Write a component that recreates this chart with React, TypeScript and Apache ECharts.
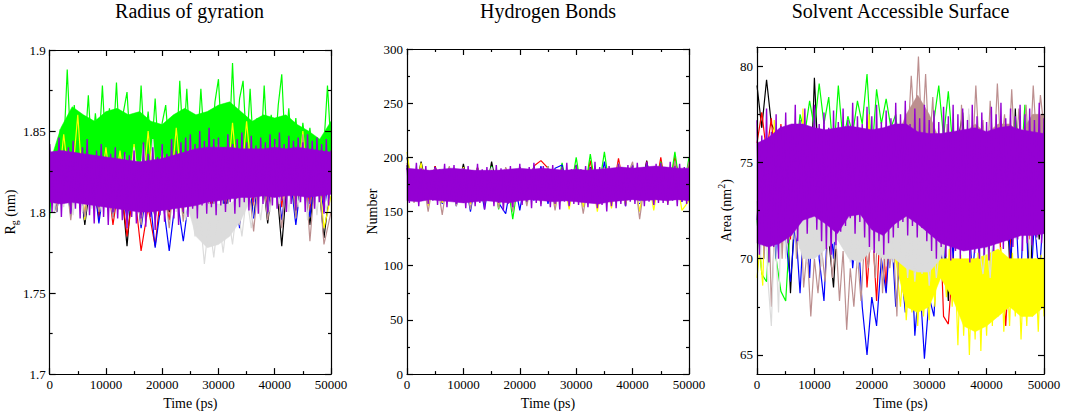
import React, { useEffect, useRef } from "react";
import * as echarts from "echarts";

const FONT = '"Liberation Serif", "Times New Roman", Times, serif';

// ---------- shared axis data ----------
const TIME_MAX = 50000;
const TIME_INTERVAL = 10000;
const X_NAME = "Time (ps)";
const TITLES = ["Radius of gyration", "Hydrogen Bonds", "Solvent Accessible Surface"];
const SERIES_ORDER = ["black", "red", "green", "blue", "yellow", "brown", "grey", "violet"];
const COLORS: Record<string, string> = {
  black: "#000000",
  red: "#ff0000",
  green: "#00ff00",
  blue: "#0000ff",
  yellow: "#ffff00",
  brown: "#bc8f8f",
  grey: "#dcdcdc",
  violet: "#9400d3",
};

// ---------- Radius of gyration (nm) ----------
const RG_MIN = 1.7;
const RG_MAX = 1.9;
const RG_INTERVAL = 0.05;
const rgBlack = [1.835,1.8,1.845,1.803,1.83,1.792,1.826,1.799,1.83,1.797,1.825,1.779,1.83,1.798,1.826,1.796,1.83,1.8,1.826,1.799,1.83,1.8,1.832,1.803,1.835,1.801,1.828,1.794,1.83,1.798,1.835,1.793,1.83,1.779,1.832,1.797,1.828,1.792,1.83,1.784,1.82];
const rgRed = [1.83,1.805,1.835,1.8,1.828,1.798,1.826,1.796,1.83,1.792,1.822,1.785,1.815,1.776,1.803,1.779,1.82,1.795,1.83,1.8,1.835,1.801,1.83,1.803,1.835,1.805,1.838,1.8,1.83,1.804,1.836,1.8,1.84,1.803,1.845,1.805,1.848,1.8,1.842,1.803,1.838];
const rgGreen = [1.796,1.832,1.815,1.851,1.838,1.888,1.84,1.866,1.836,1.858,
  1.839,1.872,1.835,1.861,1.84,1.878,1.837,1.864,1.841,1.88,
  1.836,1.862,1.874,1.838,1.858,1.835,1.878,1.84,1.862,1.837,
  1.87,1.834,1.855,1.866,1.838,1.852,1.835,1.881,1.84,1.876,
  1.836,1.858,1.839,1.876,1.842,1.86,1.837,1.868,1.882,1.84,
  1.865,1.838,1.892,1.841,1.87,1.881,1.839,1.876,1.836,1.858,
  1.834,1.878,1.838,1.86,1.835,1.866,1.885,1.838,1.864,1.836,
  1.858,1.834,1.855,1.836,1.852,1.833,1.846,1.829,1.842,1.878,
  1.84];
const rgBlue = [1.83,1.8,1.832,1.798,1.826,1.795,1.83,1.793,1.825,1.797,1.828,1.795,1.83,1.79,1.82,1.778,1.81,1.776,1.812,1.782,1.815,1.79,1.826,1.792,1.83,1.795,1.828,1.79,1.832,1.796,1.83,1.798,1.834,1.795,1.83,1.792,1.828,1.797,1.83,1.8,1.832];
const rgYellow = [1.83,1.805,1.848,1.81,1.86,1.795,1.835,1.806,1.84,1.805,1.838,1.803,1.842,1.8,1.85,1.805,1.838,1.802,1.852,1.806,1.84,1.805,1.838,1.81,1.842,1.806,1.855,1.808,1.856,1.81,1.84,1.806,1.842,1.808,1.838,1.81,1.85,1.805,1.836,1.79,1.81];
const rgBrown = [1.842,1.8,1.835,1.795,1.83,1.797,1.832,1.8,1.826,1.796,1.83,1.8,1.825,1.792,1.83,1.795,1.828,1.79,1.835,1.794,1.845,1.797,1.83,1.79,1.828,1.786,1.835,1.792,1.83,1.788,1.834,1.795,1.83,1.79,1.84,1.796,1.848,1.782,1.835,1.78,1.8];
const rgGrey = [1.83,1.8,1.825,1.803,1.83,1.798,1.826,1.8,1.83,1.802,
  1.826,1.8,1.828,1.803,1.83,1.805,1.836,1.81,1.84,1.815,
  1.842,1.812,1.845,1.81,1.838,1.805,1.83,1.8,1.825,1.795,
  1.81,1.785,1.8,1.768,1.795,1.772,1.798,1.775,1.8,1.78,
  1.805,1.785,1.81,1.79,1.815,1.795,1.82,1.8,1.826,1.805,
  1.83,1.8,1.832,1.803,1.83,1.795,1.826,1.798,1.83,1.8,
  1.82];
const rgViolet = [1.842,1.8,1.836,1.806,1.846,1.797,1.838,1.81,1.84,1.799,1.844,1.802,
  1.836,1.796,1.84,1.805,1.845,1.798,1.834,1.793,1.838,1.803,1.842,1.797,
  1.833,1.792,1.836,1.8,1.84,1.796,1.832,1.795,1.837,1.79,1.835,1.797,
  1.838,1.793,1.831,1.796,1.843,1.791,1.836,1.797,1.84,1.789,1.834,1.798,
  1.842,1.794,1.836,1.801,1.845,1.796,1.838,1.792,1.843,1.8,1.846,1.797,
  1.848,1.802,1.842,1.796,1.85,1.804,1.844,1.799,1.852,1.803,1.845,1.798,
  1.846,1.804,1.84,1.8,1.848,1.806,1.842,1.799,1.845,1.803,1.849,1.806,
  1.843,1.801,1.847,1.806,1.841,1.799,1.846,1.805,1.843,1.8,1.848,1.804,
  1.845,1.802,1.849,1.807,1.842,1.8,1.847,1.805,1.844,1.801,1.846,1.806,
  1.843,1.8,1.848,1.805,1.844,1.802,1.846,1.806,1.842,1.799,1.845,1.804,
  1.838];
// dense cores (lower / upper edge, every 2000 ps)
const rgVioletLo = [1.806,1.805,1.806,1.805,1.804,1.803,1.802,1.801,1.8,1.8,1.801,1.802,1.803,1.804,1.806,1.807,1.808,1.809,1.809,1.81,1.809,1.81,1.81,1.809,1.81,1.811];
const rgVioletHi = [1.837,1.838,1.837,1.836,1.835,1.834,1.833,1.832,1.831,1.832,1.833,1.835,1.837,1.839,1.84,1.84,1.84,1.839,1.839,1.839,1.84,1.839,1.84,1.839,1.838,1.837];
const rgGreenLo = [1.828,1.83,1.83,1.83,1.83,1.829,1.828,1.827,1.826,1.827,1.828,1.83,1.832,1.834,1.835,1.835,1.835,1.834,1.834,1.834,1.835,1.834,1.835,1.834,1.833,1.832];
const rgGreenHi = [1.83,1.852,1.865,1.86,1.856,1.862,1.864,1.86,1.862,1.856,1.854,1.86,1.864,1.86,1.862,1.866,1.868,1.862,1.856,1.86,1.858,1.86,1.854,1.85,1.845,1.856];
const rgGreyLo = [1.82,1.82,1.82,1.82,1.82,1.82,1.82,1.82,1.82,1.82,1.82,1.82,1.81,1.785,1.778,1.78,1.785,1.795,1.81,1.82,1.82,1.82,1.82,1.82,1.82,1.82];
const rgGreyHi = [1.82,1.82,1.82,1.82,1.82,1.82,1.82,1.82,1.82,1.82,1.82,1.82,1.81,1.805,1.805,1.805,1.805,1.81,1.81,1.82,1.82,1.82,1.82,1.82,1.82,1.82];

// ---------- Hydrogen bonds (number) ----------
const HB_MIN = 0;
const HB_MAX = 300;
const HB_INTERVAL = 50;
const hbBlack = [200,162,196,165,192,160,190,163,194,161,190,158,196,162,188,160,191,163,192,159,188,162,190,161,193,160,189,163,191,158,190,162,192,161,197,160,190,163,198,161,195];
const hbRed = [190,163,188,160,192,158,190,162,187,159,191,161,189,157,190,163,188,160,192,197,190,161,188,158,191,162,197,159,190,161,199,163,193,158,196,161,200,159,201,160,196];
const hbGreen = [192,160,190,162,188,159,191,161,189,158,190,157,192,152,189,143,188,158,190,162,192,160,195,161,200,159,203,162,205,160,194,158,192,161,194,160,196,162,205,160,200];
const hbBlue = [190,160,188,158,191,157,189,155,190,150,188,152,191,158,148,186,151,189,160,192,157,190,193,155,189,160,191,158,196,157,189,155,193,157,195,158,190,160,188,159,190];
const hbYellow = [205,160,195,155,190,158,188,160,191,157,189,159,190,156,188,158,190,160,189,157,191,155,188,152,190,154,189,150,187,153,190,156,188,150,191,151,189,157,190,151,160];
const hbBrown = [195,158,190,150,188,147,192,155,189,152,190,158,188,153,191,150,189,155,190,157,192,151,188,156,190,148,189,155,191,157,195,178,196,143,190,156,192,158,197,160,196];
const hbGrey = [188,162,190,160,187,163,189,161,190,159,188,162,191,160,189,158,190,161,188,163,190,160,189,162,191,159,188,161,190,160,189,162,191,158,190,161,188,160,189,162,190];
const hbViolet = [193,158,188,164,195,155,190,161,192,157,186,160,
  191,156,189,163,194,154,188,160,193,157,187,162,
  190,153,192,160,187,155,194,158,189,152,191,160,
  188,155,193,158,190,151,186,157,192,154,189,161,
  194,156,188,159,191,153,195,158,189,155,192,160,
  190,154,193,157,188,152,191,159,195,155,189,157,
  193,156,189,160,192,154,190,158,196,153,191,156,
  188,150,192,155,189,153,194,157,190,155,193,159,
  192,157,195,160,190,155,196,159,191,156,194,158,
  195,158,191,156,196,160,192,155,194,159,191,157,
  188];
const hbVioletLo = [160,159,161,160,159,158,159,160,159,158,160,161,160,159,160,159,158,157,159,160,161,160,161,160,161,160];
const hbVioletHi = [190,189,188,189,190,189,188,188,188,189,190,189,190,189,188,189,188,189,190,191,190,191,192,191,190,190];

// ---------- Solvent accessible surface (nm^2) ----------
const SA_MIN = 64;
const SA_MAX = 81;
const SA_MAJOR_TICKS = [65, 70, 75, 80];
const SA_MINOR_TICKS = [67.5, 72.5, 77.5];
const saBlack = [79,76.8,79.3,77,76.5,72,74,68.2,73,71,75,72,79.4,74,76,71,68.5,73,76,72,75,71,76,72,75,71,76,72,75,71,76,72,77,71,76,72,75,71,76,72,67.8,74,76,77.6,73,71,76,72,75,71,76,72,75,68.5,77.8,72,76,67.9,74,71,75];
const saRed = [76,77.6,75.5,77.3,74,77,73,71,75,72,76,71,75,72,76,71,75,72,76,71,75,72,74,68.5,72,67.8,73,68.3,75,71,76,72,75,71,76,72,75,71,74,67,66.6,70,74,71,76,72,75,71,76,72,75,70,66.5,71,75,72,76,71,75,72,76];
const saGreen = [72,69.2,68.8,73,70,68.3,67.8,72,75,77.5,76.5,78.2,76.8,79.1,77,78.4,75.2,79,76,77.4,76.5,78.2,77,79.6,75.3,78.8,77,78.3,76.8,77.5,75,76,77.8,75.5,76.5,75,76,77.2,79,76.3,78.7,75.5,76.5,74,76,73,75.5,73,76,72,76.5,73,76,74,77.3,74,78,74,76,73,75];
const saBlue = [72,75,71,76,70,74,71,68.8,72,68.2,73,69,75,70,67.8,73,70,75,71,74,69.5,72,67.5,65,68,66.5,70,68.2,72,67.5,70,67.2,72,66,69,64.8,68,67,72,69,74,70,75,71,74,69,72,67.8,73,68.5,75,71,74,70,73,68,74,67.5,72,69,73];
const saYellow = [69,70.5,68.6,74,76,72,77.2,74.5,76.5,72,
  74,71,75,72,76,71.5,77.8,72,75,71,
  74,71,75,72,76,71,74,72,75,71,
  74,72,75,71,76,72,75,71,74,77.5,
  73,71,75,72,74,71,75,70,73,69,
  67.5,69.8,66.8,69,67.2,70,66.5,69.5,67,68.8,
  66.8,70,67.5,71,73,70,68,70.5,67.5,69.8,
  65.5,70.2,66,69.5,65,70,65.8,70.3,65.2,69.8,
  66,70.5,66.5,70.2,67,70.6,66.2,69.8,66.5,70.3,
  67,70,65.8,69.5,66.5,70.4,67,70,66.2,70.2,
  67];
const saBrown = [72,76,70,75,67.5,72,76,70,74,71,
  75,70,73,68.5,70.5,67,70,68.2,70.5,68.8,
  72,69,71,67.8,70.4,66.3,69.5,67.5,70.2,67.8,
  71,69.5,72,69,73,68.2,72,69.5,71,67,
  74,77,76,79.5,76.5,80.5,76,79.6,75.5,78.4,
  74,76.5,73,77,72,76,71,78,74,77.5,
  75,79,75.5,77.2,74,78.2,75,79.1,75.5,77.5,
  74.8,78.8,75,77.8,74.5,78,75,79,75.8,78.5,
  76.8];
const saGrey = [73,70,75,69,66.5,72,67.2,74,70,75,
  71,74,70.5,72.2,69.8,72.5,70,72,69.6,73,
  71,74,70.5,73,71,72.2,69.8,72.5,69.5,72.3,
  70,72,70.5,73,70.2,71.8,69.6,72,69.8,72.5,
  70,71.6,69,71.5,68.8,71.2,69.2,71.6,68.6,71,
  69,70.8,70,74,71,75,71.5,74,72,77.8,
  71,74,70.5,69.2,71,69,72,74,71,75,
  71.5,74,71,76,72,75,70,74,71,75,
  72];
const saViolet = [77.2,70.2,76.4,71.5,77.8,69.8,76.6,70.6,77.5,70,76.9,71.2,
  77.6,70.8,76.9,71.8,78,70.9,77.2,72,77.8,71.3,76.8,72.3,
  78,71.5,77,70.9,77.6,70.5,76.8,70.2,77.7,70.7,77.1,71.4,
  77.8,71.7,77.2,72.1,78.1,71.3,77.4,71.9,77,71.1,77.9,70.6,
  77.4,70.3,78,70.9,77.1,70.2,77.7,70.8,77.3,71.1,78.1,71.6,
  77.5,71.9,78.2,71.2,77,71.7,77.8,71.1,77.3,71.6,78,70.9,
  77.2,70.4,77.7,70,77.1,70.6,77.9,70.1,77.4,69.9,78,70.4,
  77.5,70,77.8,70.5,77.2,69.8,78,70.3,77.4,70,77.6,70.2,
  77.1,69.9,77.9,70.4,77.5,70.8,78.1,70.5,77.3,70.9,77.8,70.6,
  77.4,71,78,70.4,77.5,70.8,77.8,70.7,77.2,71.1,78.1,70.8,
  77.3];
const saVioletLo = [70.8,70.6,70.8,71.2,72,72.2,71.8,71.3,72.2,72.3,71.5,71.2,71.8,72.2,71.8,71.3,70.8,70.6,70.4,70.5,70.6,70.8,71,71.2,71.2,71.3];
const saVioletHi = [76,76.3,76.8,77,77,76.8,76.7,76.8,76.9,76.8,76.7,76.8,77,77,76.6,76.5,76.5,76.6,76.7,76.8,76.6,76.8,76.9,76.7,76.6,76.5];
const saYellowLo = [72,72,72,72,72,72,72,72,72,72,72,72,70,67.5,67.2,67.5,69,68,66.5,66.2,66.5,67,67.5,67,67,67.5];
const saYellowHi = [72,72,72,72,72,72,72,72,72,72,72,72,70,69.8,69.5,69.5,70,70,70,70,70.2,70.5,70,70,70,70];
const saGreyLo = [72,72,72,72,70,70,70.5,71,70,69.8,70.5,70,70,69.5,69.3,69.3,70,72,72,72,72,72,72,72,72,72];
const saGreyHi = [72,72,72,72,72.5,72.5,72,71.5,72.5,72.5,71.8,71.5,72,72.5,72,71.5,71,72,72,72,72,72,72,72,72,72];
const saBrownLo = [76,76,76,76,76,76,76,76,76,76,76,76,76,76,76,76,76,76,76,76,76,76,76,76,76,76];
const saBrownHi = [76,76,76,76,76,76,76,76,76,76,76,76,76,77.5,78.5,77.5,76,76,76.5,77,76.5,77,77,76.5,77.5,77.5];

const PANEL_DATA: Record<string, number[]>[] = [
  { black: rgBlack, red: rgRed, green: rgGreen, blue: rgBlue, yellow: rgYellow, brown: rgBrown, grey: rgGrey, violet: rgViolet },
  { black: hbBlack, red: hbRed, green: hbGreen, blue: hbBlue, yellow: hbYellow, brown: hbBrown, grey: hbGrey, violet: hbViolet },
  { black: saBlack, red: saRed, green: saGreen, blue: saBlue, yellow: saYellow, brown: saBrown, grey: saGrey, violet: saViolet },
];
const PANEL_BANDS: Record<string, [number[], number[]]>[] = [
  { green: [rgGreenLo, rgGreenHi], grey: [rgGreyLo, rgGreyHi], violet: [rgVioletLo, rgVioletHi] },
  { violet: [hbVioletLo, hbVioletHi] },
  { yellow: [saYellowLo, saYellowHi], brown: [saBrownLo, saBrownHi], grey: [saGreyLo, saGreyHi], violet: [saVioletLo, saVioletHi] },
];

// ---------- layout ----------
const GRIDS = [
  { left: 48, top: 50, width: 283, height: 330 },
  { left: 407, top: 49, width: 282, height: 329 },
  { left: 757, top: 47, width: 287, height: 334 },
];

const LINE = { color: "#000", width: 1.2 };
const LABEL = { fontFamily: FONT, fontSize: 13, color: "#000", formatter: (v: number) => String(v) };
const NAME_STYLE = { fontFamily: FONT, fontSize: 14, color: "#000" };
const AXIS_Z = 60;

function toPoints(vals: number[]) {
  const step = TIME_MAX / (vals.length - 1);
  return vals.map((v, i) => [i * step, v]);
}

function bandSeries(lo: number[], hi: number[], color: string, xIndex: number, yIndex: number, z: number) {
  const step = TIME_MAX / (lo.length - 1);
  return {
    type: "custom",
    coordinateSystem: "cartesian2d",
    xAxisIndex: xIndex,
    yAxisIndex: yIndex,
    silent: true,
    z,
    data: [[0, lo[0]]],
    renderItem: (_params: any, api: any) => {
      const upper = hi.map((v, i) => api.coord([i * step, v]));
      const lower = lo.map((v, i) => api.coord([i * step, v])).reverse();
      return {
        type: "polygon",
        shape: { points: upper.concat(lower) },
        style: { fill: color, stroke: color, lineWidth: 0.5 },
      };
    },
  };
}

function buildOption() {
  const xAxis: any[] = [];
  const yAxis: any[] = [];
  const series: any[] = [];
  const graphic: any[] = [];

  const tickBase = {
    axisLine: { show: true, onZero: false, lineStyle: LINE },
    axisTick: { show: true, inside: true, length: 6, lineStyle: LINE },
    minorTick: { show: true, splitNumber: 2, length: 3, lineStyle: LINE },
    splitLine: { show: false },
    minorSplitLine: { show: false },
    z: AXIS_Z,
  };

  GRIDS.forEach((g, gi) => {
    const xBase = { gridIndex: gi, type: "value", min: 0, max: TIME_MAX, interval: TIME_INTERVAL, ...tickBase };
    const xIndex = xAxis.length;
    xAxis.push({
      ...xBase,
      position: "bottom",
      axisLabel: { ...LABEL, margin: 4, showMinLabel: true, showMaxLabel: true },
      name: X_NAME,
      nameLocation: "middle",
      nameGap: 17,
      nameTextStyle: NAME_STYLE,
    });
    xAxis.push({ ...xBase, position: "top", axisLabel: { show: false } });

    const yIndex = yAxis.length;
    if (gi === 0) {
      const yBase = { gridIndex: gi, type: "value", min: RG_MIN, max: RG_MAX, interval: RG_INTERVAL, ...tickBase };
      yAxis.push({
        ...yBase,
        position: "left",
        axisLabel: { ...LABEL, margin: 4, showMinLabel: true, showMaxLabel: true },
        name: "R{sub|g} (nm)",
        nameLocation: "middle",
        nameGap: 28,
        nameTextStyle: {
          ...NAME_STYLE,
          lineHeight: 18,
          rich: { sub: { fontFamily: FONT, fontSize: 10, color: "#000", verticalAlign: "bottom" } },
        },
      });
      yAxis.push({ ...yBase, position: "right", axisLabel: { show: false } });
    } else if (gi === 1) {
      const yBase = { gridIndex: gi, type: "value", min: HB_MIN, max: HB_MAX, interval: HB_INTERVAL, ...tickBase };
      yAxis.push({
        ...yBase,
        position: "left",
        axisLabel: { ...LABEL, margin: 4, showMinLabel: true, showMaxLabel: true },
        name: "Number",
        nameLocation: "middle",
        nameGap: 26,
        nameTextStyle: NAME_STYLE,
      });
      yAxis.push({ ...yBase, position: "right", axisLabel: { show: false } });
    } else {
      const yBase = {
        gridIndex: gi, type: "value", min: SA_MIN, max: SA_MAX, ...tickBase,
        minorTick: { show: false },
        axisTick: { show: true, inside: true, length: 6, lineStyle: LINE, customValues: SA_MAJOR_TICKS },
      };
      yAxis.push({
        ...yBase,
        position: "left",
        axisLabel: { ...LABEL, margin: 4, customValues: SA_MAJOR_TICKS },
        name: "Area (nm{sup|2})",
        nameLocation: "middle",
        nameGap: 17,
        nameTextStyle: {
          ...NAME_STYLE,
          lineHeight: 20,
          rich: { sup: { fontFamily: FONT, fontSize: 10, color: "#000", verticalAlign: "top" } },
        },
      });
      yAxis.push({ ...yBase, position: "right", axisLabel: { show: false } });
      const minorBase = {
        gridIndex: gi, type: "value", min: SA_MIN, max: SA_MAX, z: AXIS_Z,
        axisLine: { show: false, onZero: false },
        axisLabel: { show: false },
        splitLine: { show: false },
        minorTick: { show: false },
        axisTick: { show: true, inside: true, length: 3, lineStyle: LINE, customValues: SA_MINOR_TICKS },
      };
      yAxis.push({ ...minorBase, position: "left" });
      yAxis.push({ ...minorBase, position: "right" });
    }

    const data = PANEL_DATA[gi];
    const bands = PANEL_BANDS[gi];
    let z = 2;
    SERIES_ORDER.forEach((key) => {
      const band = bands[key];
      if (band) series.push(bandSeries(band[0], band[1], COLORS[key], xIndex, yIndex, z++));
      series.push({
        type: "line",
        name: key,
        xAxisIndex: xIndex,
        yAxisIndex: yIndex,
        z: z++,
        data: toPoints(data[key]),
        symbol: "none",
        showSymbol: false,
        silent: true,
        clip: true,
        lineStyle: { color: COLORS[key], width: key === "violet" ? 1.4 : 1.2 },
        itemStyle: { color: COLORS[key] },
      });
    });

    graphic.push({
      type: "text",
      x: g.left + g.width / 2,
      y: 11,
      style: {
        text: TITLES[gi],
        fontFamily: FONT,
        fontSize: 20,
        fill: "#000",
        align: "center",
        verticalAlign: "middle",
      },
    });
  });

  return {
    animation: false,
    backgroundColor: "#ffffff",
    grid: GRIDS.map((g) => ({ ...g, containLabel: false, show: false })),
    xAxis,
    yAxis,
    series,
    graphic,
  };
}

export default function App() {
  const ref = useRef<HTMLDivElement>(null);
  useEffect(() => {
    if (!ref.current) return;
    const chart = echarts.init(ref.current, null, { renderer: "svg" });
    chart.setOption(buildOption() as any);
    return () => chart.dispose();
  }, []);
  return (
    <div
      ref={ref}
      style={{ position: "absolute", left: 0, top: 0, width: 1065, height: 415, background: "#fff" }}
    />
  );
}
